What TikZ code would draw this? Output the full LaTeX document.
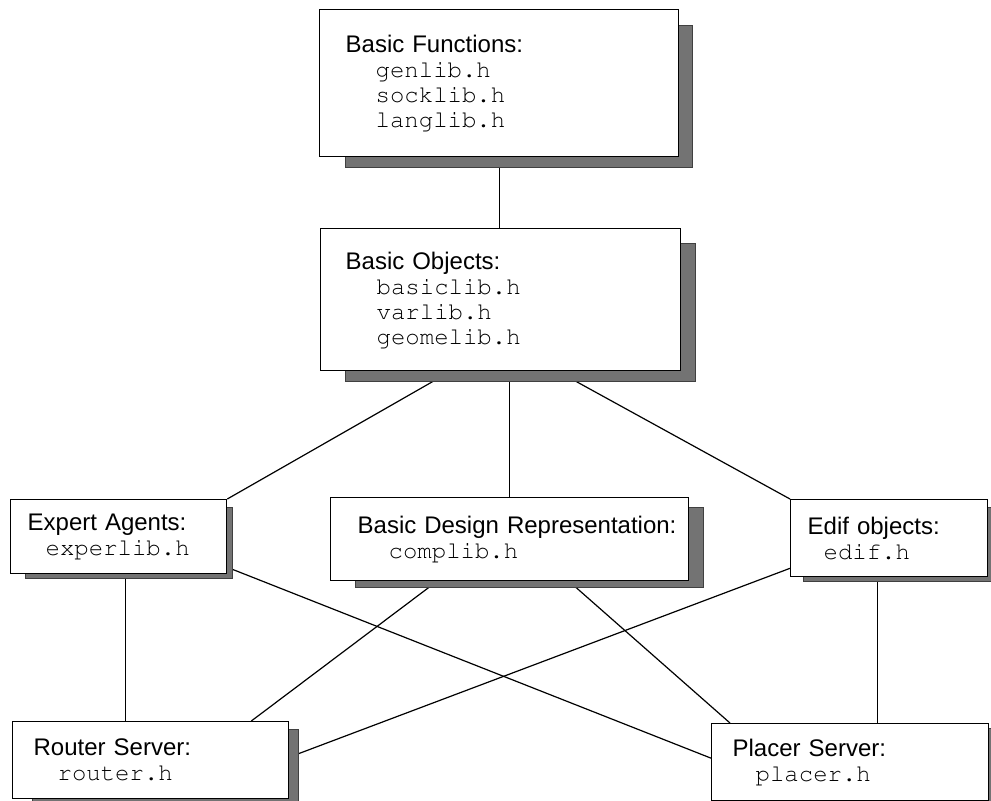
\documentclass[tikz,border=0pt]{standalone}
\usepackage[T1]{fontenc}
\usepackage{fontspec}
\newfontfamily\headfont{Liberation Sans}
\newcommand{\codefont}{\fontencoding{T1}\fontfamily{pcr}\selectfont}
\usetikzlibrary{calc, backgrounds}

\newcommand{\hhead}[2]{\hspace*{#1}#2}
\newcommand{\hfile}[2]{{\codefont\hspace*{#1}#2}}
\newcommand{\dropshade}[5]{\fill[libshadow] ($(#1.south west)+(#4,#3)$) rectangle ($(#1.north east)+(#2,#5)$);}

\tikzset{
  libbox/.style={draw=black, fill=white, line width=0.65pt, anchor=north west, align=left,
    inner xsep=0pt, inner ysep=0pt, font=\headfont\fontsize{12}{12.5}\selectfont},
  libshadow/.style={fill=black!55, draw=black!75, line width=0.3pt},
  libline/.style={draw=black, line width=0.6pt}
}

\begin{document}
\begin{tikzpicture}[x=0.5pt, y=-0.5pt]
\useasboundingbox (0,0) rectangle (991,800);

\node[libbox, text width=179.5pt, minimum height=73.5pt] (basicfn) at (319,9)
  {\hhead{13pt}{Basic Functions:}\\ \hfile{28pt}{genlib.h}\\ \hfile{28pt}{socklib.h}\\ \hfile{28pt}{langlib.h}};
\node[libbox, text width=180pt, minimum height=71pt] (basicobj) at (320,228)
  {\hhead{12.5pt}{Basic Objects:}\\ \hfile{28pt}{basiclib.h}\\ \hfile{28pt}{varlib.h}\\ \hfile{28pt}{geomelib.h}};

\node[libbox, text width=108pt, minimum height=37pt] (expert) at (10,499)
  {\hhead{8.5pt}{Expert Agents:}\\ \hfile{17.5pt}{experlib.h}};
\node[libbox, text width=179pt, minimum height=41.5pt] (design) at (330,497)
  {\hhead{13.5pt}{Basic Design Representation:}\\ \hfile{29pt}{complib.h}};
\node[libbox, text width=98.5pt, minimum height=38.5pt] (edif) at (790,499)
  {\hhead{8.5pt}{Edif objects:}\\ \hfile{16.5pt}{edif.h}};

\node[libbox, text width=138pt, minimum height=38.5pt] (router) at (12,721)
  {\hhead{10.5pt}{Router Server:}\\ \hfile{22.5pt}{router.h}};
\node[libbox, text width=138.5pt, minimum height=38.5pt] (placer) at (711,723)
  {\hhead{10.5pt}{Placer Server:}\\ \hfile{22pt}{placer.h}};

\begin{pgfonlayer}{background}
\draw[libline] (basicfn.south) -- (basicfn.south |- basicobj.north);
\draw[libline] ($(basicobj.south)+(-50,0)$) -- (expert.north east);
\draw[libline] (basicobj.south -| design.north) -- (design.north);
\draw[libline] ($(basicobj.south)+(57,0)$) -- (edif.north west);

\draw[libline] ($(expert.south)+(7,0)$) coordinate (ea) -- (ea |- router.north);
\draw[libline] ($(expert.south east)+(0,-7)$) -- ($(placer.west)+(0,-4)$);
\draw[libline] ($(design.south west)+(107,0)$) -- ($(router.north east)+(-38,0)$);
\draw[libline] ($(design.south west)+(239,0)$) -- ($(placer.north west)+(19,0)$);
\draw[libline] ($(edif.south west)+(0,-9)$) -- ($(router.east)+(0,-3)$);
\draw[libline] ($(edif.south)+(-12,0)$) coordinate (ed) -- (ed |- placer.north);

\dropshade{basicfn}{13}{10}{26}{16}
\dropshade{basicobj}{14}{10}{25}{15}
\dropshade{expert}{5}{4}{15}{8}
\dropshade{design}{14}{6}{25}{10}
\dropshade{edif}{14}{4}{13}{8}
\dropshade{router}{9}{10}{20}{8}
\dropshade{placer}{14}{10}{20}{5}
\end{pgfonlayer}

\end{tikzpicture}
\end{document}
